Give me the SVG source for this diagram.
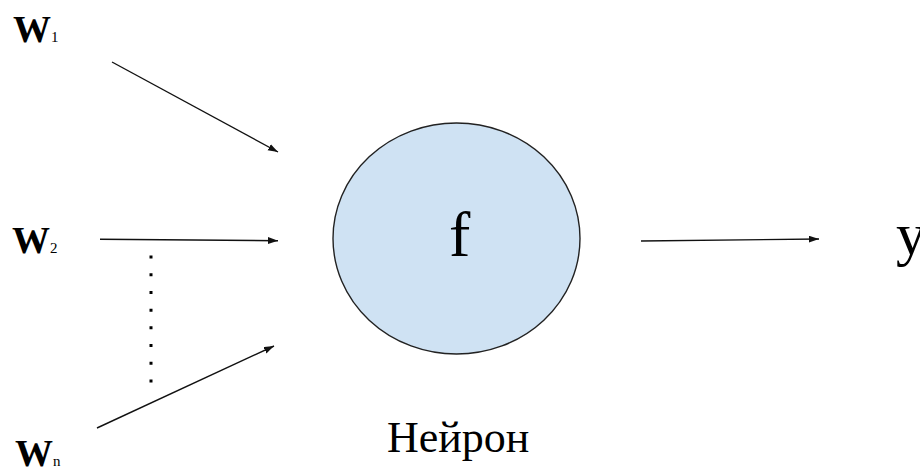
<svg xmlns="http://www.w3.org/2000/svg" width="920" height="468" viewBox="0 0 920 468">
  <rect width="920" height="468" fill="#fff"/>
  <defs>
    <marker id="head" markerUnits="userSpaceOnUse" markerWidth="11" markerHeight="8" refX="10" refY="3.5" orient="auto">
      <path d="M0,0 L10,3.5 L0,7 z" fill="#111"/>
    </marker>
  </defs>

  <!-- connectors: shared stroke set on the group -->
  <g id="connectors" stroke="#111" stroke-width="1.4" fill="none">
    <line x1="112" y1="62" x2="278" y2="152" marker-end="url(#head)"/>
    <line x1="100" y1="239.3" x2="278" y2="240.7" marker-end="url(#head)"/>
    <line x1="97" y1="428" x2="274" y2="346" marker-end="url(#head)"/>
    <line x1="641" y1="241" x2="819" y2="239" marker-end="url(#head)"/>
    <!-- ellipsis between the second and the last input -->
    <line x1="151" y1="255.5" x2="151" y2="383" stroke="#000" stroke-width="3" stroke-dasharray="3 14.714"/>
  </g>

  <!-- neuron body -->
  <g id="neuron">
    <ellipse cx="456.5" cy="238.5" rx="123.5" ry="115.5" fill="#cfe2f3" stroke="#222" stroke-width="1.4"/>
  </g>

  <!-- labels -->
  <text id="input-w1" x="13" y="42" font-family="Liberation Serif" font-size="38" font-weight="bold">W<tspan font-size="15" font-weight="normal">1</tspan></text>
  <text id="input-w2" x="12" y="253" font-family="Liberation Serif" font-size="38" font-weight="bold">W<tspan font-size="15" font-weight="normal">2</tspan></text>
  <text id="input-wn" x="15" y="466" font-family="Liberation Serif" font-size="38" font-weight="bold">W<tspan font-size="15" font-weight="normal">n</tspan></text>
  <text id="neuron-f" x="449" y="256" font-family="Liberation Serif" font-size="64">f</text>
  <text id="neuron-label" x="387" y="452" font-family="Liberation Serif" font-size="44">Нейрон</text>
  <text id="output-y" x="896" y="254" font-family="Liberation Serif" font-size="60">y</text>
</svg>
